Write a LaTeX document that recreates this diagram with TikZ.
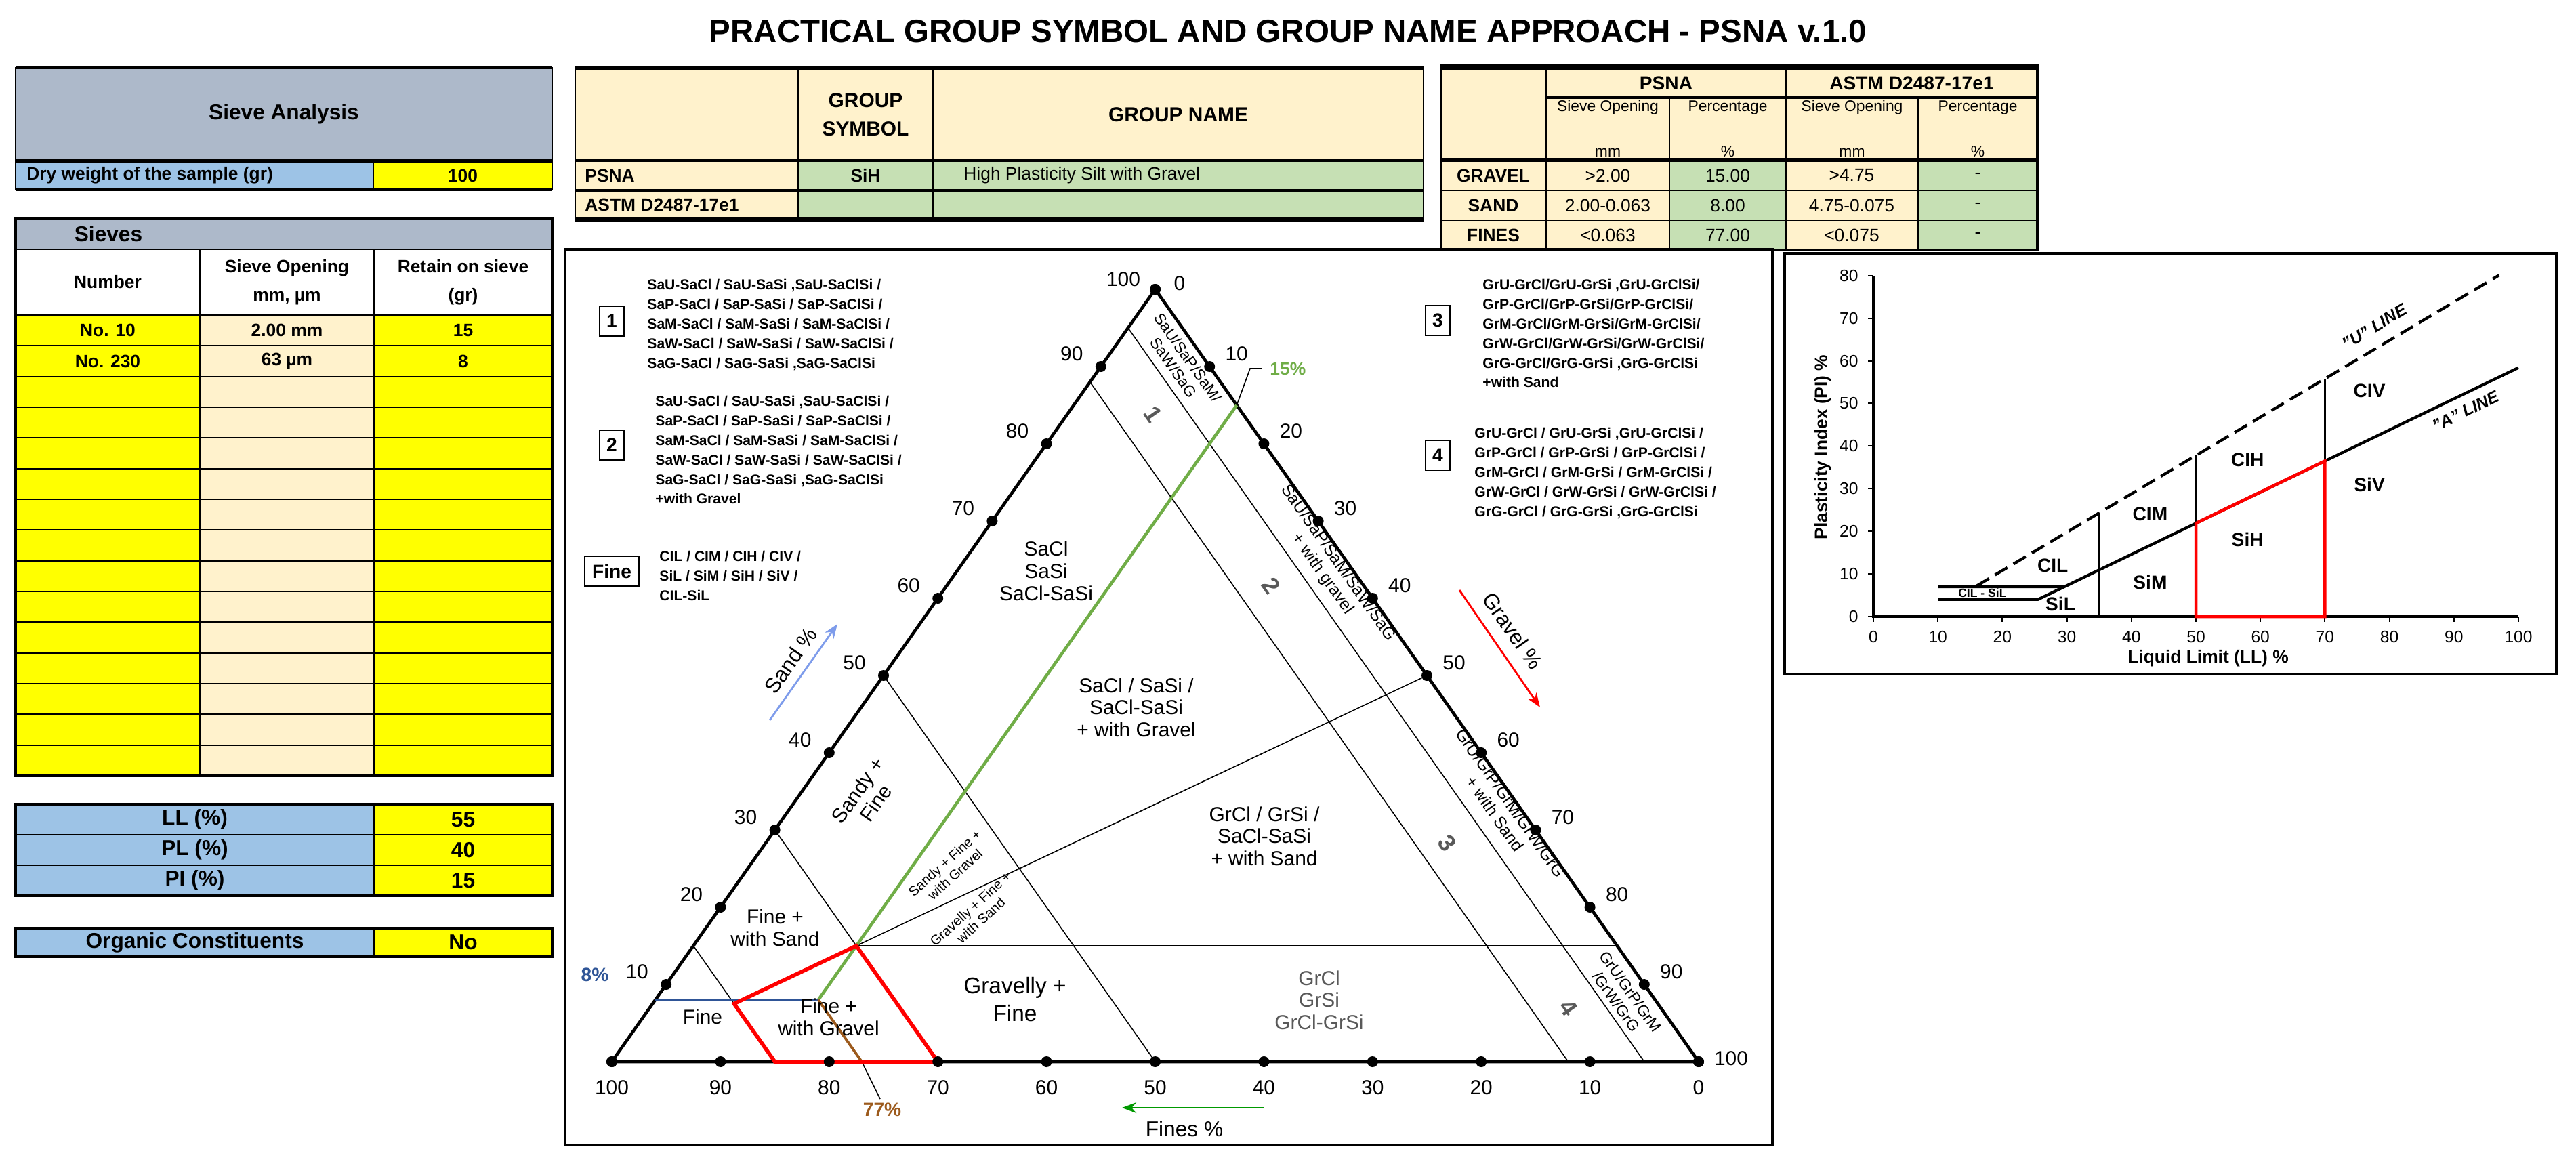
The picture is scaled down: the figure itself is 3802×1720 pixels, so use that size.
\documentclass[tikz,border=0pt]{standalone}
\usepackage{fontspec}
\setmainfont{Liberation Sans}
\usetikzlibrary{arrows.meta,calc}
\definecolor{hdr}{HTML}{ADB9CA}
\definecolor{lblue}{HTML}{9DC3E6}
\definecolor{ylw}{HTML}{FFFF00}
\definecolor{crm}{HTML}{FFF2CC}
\definecolor{grn}{HTML}{C6E0B4}
\definecolor{tgreen}{HTML}{70AD47}
\definecolor{tblue}{HTML}{2F5597}
\definecolor{tbrown}{HTML}{9C5A1C}
\definecolor{tgray}{HTML}{595959}
\newcounter{cc}
\newcommand\fs[2]{\fontsize{#1}{#2}\selectfont}
\newcommand\cellbox[6][]{\stepcounter{cc}\draw[fill=#6,line width=0.6pt] (#2,#3) rectangle (#4,#5);}
\newcommand\ctext[6][]{\stepcounter{cc}\node[font=\bfseries\fs{7.5}{9},align=center,#1] (t\thecc) at ({(#2+#4)/2},{(#3+#5)/2}) {#6};}
\newcommand\ternpt[4]{\coordinate (#1) at ({9.03*(#2)+17.05*(#3)+25.07*(#4)},{15.67*(#2)+4.27*(#3)+15.67*(#4)});}
\newcommand\cp[3]{\coordinate (#1) at ({2765+9.52*(#2)},{910-6.29*(#3)});}
\tikzset{
  thinl/.style={line width=0.45pt},
  side/.style={line width=1.3pt},
  lbl/.style={font=\fs{8.5}{9.3},align=center},
  tick/.style={font=\fs{8.5}{10}},
  blk/.style={font=\bfseries\fs{6}{8.2},align=left,anchor=north west},
  numbox/.style={draw,line width=0.8pt,font=\bfseries\fs{8}{9},minimum width=0.36cm,minimum height=0.44cm,inner sep=1pt},
  clab/.style={font=\bfseries\fs{8}{9}},
  ctick/.style={font=\fs{7}{8}},
}
\begin{document}
\begin{tikzpicture}[x=0.01cm,y=-0.01cm]
\useasboundingbox[fill=white] (0,0) rectangle (3802,1720);
\node[font=\bfseries\fs{13.5}{15}] (title) at (1901,46) {PRACTICAL GROUP SYMBOL AND GROUP NAME APPROACH - PSNA v.1.0};

% ===== left panel =====
\cellbox{23}{100}{815}{236}{hdr}\ctext{23}{100}{815}{236}{\fs{9}{10}Sieve Analysis}
\draw[line width=1.4pt] (23,100) -- (815,100);
\cellbox{23}{238}{551}{280}{lblue}\node[font=\bfseries\fs{7.5}{9},anchor=west] (dry) at (27,259) {Dry weight of the sample (gr)};
\cellbox{551}{238}{815}{280}{ylw}\ctext{551}{238}{815}{280}{100}
\draw[line width=1.4pt] (23,238) -- (815,238) (23,280) -- (815,280);
\cellbox{23}{323}{815}{368}{hdr}\node[font=\bfseries\fs{9}{10}] (sv) at (160,345) {Sieves};
\draw[line width=1.4pt] (23,323) -- (815,323);
\cellbox{23}{368}{295}{465}{white}\ctext{23}{368}{295}{465}{Number}
\cellbox{295}{368}{552}{465}{white}\ctext{295}{368}{552}{465}{Sieve Opening\\[3pt]mm, µm}
\cellbox{552}{368}{815}{465}{white}\ctext{552}{368}{815}{465}{Retain on sieve\\[3pt](gr)}
\foreach \r in {0,...,14}{
  \pgfmathsetmacro\ya{465+45.33*\r}\pgfmathsetmacro\yb{465+45.33*(\r+1)}
  \draw[fill=ylw,line width=0.6pt] (23,\ya) rectangle (295,\yb);
  \draw[fill=crm,line width=0.6pt] (295,\ya) rectangle (552,\yb);
  \draw[fill=ylw,line width=0.6pt] (552,\ya) rectangle (815,\yb);
}
\ctext{23}{465}{295}{510}{No. 10}\ctext{295}{465}{552}{510}{2.00 mm}\ctext{552}{465}{815}{510}{15}
\ctext{23}{510}{295}{556}{No. 230}\ctext{295}{510}{552}{556}{63 µm}\ctext{552}{510}{815}{556}{8}
\draw[line width=1.2pt] (23,323) rectangle (815,1145);
\cellbox{23}{1187}{552}{1232}{lblue}\ctext[font=\bfseries\fs{9}{10}]{23}{1187}{552}{1232}{LL (\%)}
\cellbox{552}{1187}{815}{1232}{ylw}\ctext[font=\bfseries\fs{9}{10}]{552}{1187}{815}{1232}{55}
\cellbox{23}{1232}{552}{1277}{lblue}\ctext[font=\bfseries\fs{9}{10}]{23}{1232}{552}{1277}{PL (\%)}
\cellbox{552}{1232}{815}{1277}{ylw}\ctext[font=\bfseries\fs{9}{10}]{552}{1232}{815}{1277}{40}
\cellbox{23}{1277}{552}{1322}{lblue}\ctext[font=\bfseries\fs{9}{10}]{23}{1277}{552}{1322}{PI (\%)}
\cellbox{552}{1277}{815}{1322}{ylw}\ctext[font=\bfseries\fs{9}{10}]{552}{1277}{815}{1322}{15}
\draw[line width=1.2pt] (23,1187) rectangle (815,1322);
\cellbox{23}{1370}{552}{1412}{lblue}\ctext[font=\bfseries\fs{9}{10}]{23}{1370}{552}{1412}{Organic Constituents}
\cellbox{552}{1370}{815}{1412}{ylw}\ctext[font=\bfseries\fs{9}{10}]{552}{1370}{815}{1412}{No}
\draw[line width=1.2pt] (23,1370) rectangle (815,1412);

% ===== group table =====
\cellbox{849}{103}{1178}{236}{crm}
\cellbox{1178}{103}{1377}{236}{crm}\ctext[font=\bfseries\fs{8.5}{12}]{1178}{103}{1377}{236}{GROUP\\SYMBOL}
\cellbox{1377}{103}{2101}{236}{crm}\ctext[font=\bfseries\fs{8.5}{12}]{1377}{103}{2101}{236}{GROUP NAME}
\cellbox{849}{238}{1178}{280}{crm}\node[font=\bfseries\fs{7.5}{9},anchor=west] (gp) at (851,259) {PSNA};
\cellbox{1178}{238}{1377}{280}{grn}\ctext{1178}{238}{1377}{280}{SiH}
\cellbox{1377}{238}{2101}{280}{grn}\node[font=\fs{7.5}{9},anchor=west] (gn) at (1410,259) {High Plasticity Silt with Gravel};
\cellbox{849}{282}{1178}{322}{crm}\node[font=\bfseries\fs{7.5}{9},anchor=west] (ga) at (851,302) {ASTM D2487-17e1};
\cellbox{1178}{282}{1377}{322}{grn}\cellbox{1377}{282}{2101}{322}{grn}
\fill (849,97) rectangle (2101,104);\fill (849,322) rectangle (2101,328);
\draw[line width=1.4pt] (849,237) -- (2101,237) (849,281) -- (2101,281);

% ===== right table =====
\cellbox{2127}{103}{2282}{235}{crm}
\cellbox{2282}{103}{2636}{143}{crm}\ctext[font=\bfseries\fs{8}{9}]{2282}{103}{2636}{143}{PSNA}
\cellbox{2636}{103}{3007}{143}{crm}\ctext[font=\bfseries\fs{8}{9}]{2636}{103}{3007}{143}{ASTM D2487-17e1}
\cellbox{2282}{145}{2464}{235}{crm}\ctext[font=\fs{6.5}{19}]{2282}{145}{2464}{235}{Sieve Opening\\mm}
\cellbox{2464}{145}{2636}{235}{crm}\ctext[font=\fs{6.5}{19}]{2464}{145}{2636}{235}{Percentage\\\%}
\cellbox{2636}{145}{2831}{235}{crm}\ctext[font=\fs{6.5}{19}]{2636}{145}{2831}{235}{Sieve Opening\\mm}
\cellbox{2831}{145}{3007}{235}{crm}\ctext[font=\fs{6.5}{19}]{2831}{145}{3007}{235}{Percentage\\\%}
\draw[line width=1.4pt] (2282,144) -- (3007,144);
\foreach \nm/\a/\b/\c/\d [count=\k from 0] in {GRAVEL/{>2.00}/15.00/{>4.75}/-,SAND/2.00-0.063/8.00/4.75-0.075/-,FINES/{<0.063}/77.00/{<0.075}/-}{
  \pgfmathsetmacro\ya{237+44*\k}\pgfmathsetmacro\yb{237+44*(\k+1)}\pgfmathsetmacro\ym{237+44*\k+22}
  \draw[fill=crm,line width=0.6pt] (2127,\ya) rectangle (2282,\yb);
  \draw[fill=crm,line width=0.6pt] (2282,\ya) rectangle (2464,\yb);
  \draw[fill=grn,line width=0.6pt] (2464,\ya) rectangle (2636,\yb);
  \draw[fill=crm,line width=0.6pt] (2636,\ya) rectangle (2831,\yb);
  \draw[fill=grn,line width=0.6pt] (2831,\ya) rectangle (3007,\yb);
  \node[font=\bfseries\fs{7.5}{9}] (rn\k) at (2204,\ym) {\nm};
  \node[font=\fs{7.5}{9}] (ra\k) at (2373,\ym) {\a};
  \node[font=\fs{7.5}{9}] (rb\k) at (2550,\ym) {\b};
  \node[font=\fs{7.5}{9}] (rc\k) at (2733,\ym) {\c};
  \node[font=\fs{7.5}{9}] (rd\k) at (2919,\ym) {\d};
}
\fill (2127,97) rectangle (3007,104);
\draw[line width=1.6pt] (2127,236) -- (3007,236);
\draw[line width=1.4pt] (2127,97) rectangle (3007,369);

% ===== triangle panel =====
\draw[line width=1.2pt] (834,368) rectangle (2616,1690);
\ternpt{L}{100}{0}{0}\ternpt{T}{0}{100}{0}\ternpt{R}{0}{0}{100}
\ternpt{f5a}{5}{95}{0}\ternpt{f5b}{5}{0}{95}
\ternpt{f12a}{12}{88}{0}\ternpt{f12b}{12}{0}{88}
\ternpt{f50a}{50}{50}{0}\ternpt{f50b}{50}{0}{50}
\ternpt{f70a}{70}{30}{0}\ternpt{f70b}{70}{0}{30}
\ternpt{f85a}{85}{15}{0}\ternpt{f85b}{85}{0}{15}
\ternpt{B}{70}{15}{15}\ternpt{A}{85}{7.5}{7.5}
\ternpt{s15r}{0}{15}{85}\ternpt{sgr}{0}{50}{50}
\ternpt{g15t}{0}{85}{15}\ternpt{P}{77}{8}{15}\ternpt{Q}{77}{0}{23}
\ternpt{s8l}{92}{8}{0}
\draw[thinl] (f5a) -- (f5b) (f12a) -- (f12b) (f50a) -- (f50b) (f70a) -- (f70b) (f85a) -- (f85b) (B) -- (s15r) (B) -- (sgr);
\draw[side] (L) -- (T) -- (R) -- cycle;
\draw[tblue,line width=1.3pt] (s8l) -- (P);
\draw[tgreen,line width=1.3pt] (P) -- (g15t);
\draw[tbrown,line width=1.1pt] (P) -- (Q);
\coordinate (q77) at (1299,1622);
\draw[thinl] (Q) -- (q77);
\draw[red,line width=1.6pt] (A) -- (B) -- (f70b) -- (f85b) -- cycle;
\foreach \i in {0,...,10}{
  \pgfmathtruncatemacro\f{100-10*\i}\pgfmathtruncatemacro\g{10*\i}
  \ternpt{b\i}{\f}{0}{\g}\ternpt{l\i}{\f}{\g}{0}\ternpt{r\i}{0}{\f}{\g}
  \fill (b\i) circle (8);\fill (l\i) circle (8);\fill (r\i) circle (8);
  \node[tick] (bl\i) at ($(b\i)+(0,38)$) {\f};
}
\foreach \i in {1,...,9}{
  \pgfmathtruncatemacro\g{10*\i}
  \node[tick] (ll\i) at ($(l\i)+(-43,-19)$) {\g};
  \node[tick] (rl\i) at ($(r\i)+(40,-19)$) {\g};
}
\node[tick] (ltop) at ($(T)+(-47,-15)$) {100};
\node[tick] (rtop) at ($(T)+(36,-9)$) {0};
\node[tick] (rend) at ($(R)+(48,-5)$) {100};
% marker labels
\node[font=\bfseries\fs{8}{9},text=tblue] (p8) at (878,1439) {8\%};
\node[font=\bfseries\fs{8}{9},text=tbrown] (p77) at (1302,1638) {77\%};
\node[font=\bfseries\fs{7.5}{9},text=tgreen,anchor=west] (p15) at (1862,544) {15\%};
\coordinate (k15) at (1845,544);
\draw[thinl] (g15t) -- (k15) -- (p15.west);
% region labels
\node[lbl] (rsa) at (1544,843) {SaCl\\SaSi\\SaCl-SaSi};
\node[lbl] (rsb) at (1677,1044) {SaCl / SaSi /\\SaCl-SaSi\\+ with Gravel};
\node[lbl] (rgs) at (1866,1234) {GrCl / GrSi /\\SaCl-SaSi\\+ with Sand};
\node[lbl,text=tgray] (rgr) at (1947,1476) {GrCl\\GrSi\\GrCl-GrSi};
\node[lbl,font=\fs{9.5}{11.5}] (rgf) at (1498,1475) {Gravelly +\\Fine};
\node[lbl] (rfs) at (1144,1369) {Fine +\\with Sand};
\node[lbl] (rf) at (1037,1501) {Fine};
\node[lbl] (rfg) at (1223,1501) {Fine +\\with Gravel};
\node[lbl,rotate=54.9] (rsf) at (1279,1176) {Sandy +\\Fine};
\node[lbl,font=\fs{5.7}{6.5},rotate=42] (rsfg) at (1402,1282) {Sandy + Fine +\\with Gravel};
\node[lbl,font=\fs{5.7}{6.5},rotate=42] (rgfs) at (1440,1350) {Gravelly + Fine +\\with Sand};
\node[lbl,font=\bfseries\fs{10}{11},rotate=-54.9,text=tgray] (n1) at (1702,612) {1};
\node[lbl,font=\bfseries\fs{10}{11},rotate=-54.9,text=tgray] (n2) at (1876,864) {2};
\node[lbl,font=\bfseries\fs{10}{11},rotate=-54.9,text=tgray] (n3) at (2136,1245) {3};
\node[lbl,font=\bfseries\fs{10}{11},rotate=-54.9,text=tgray] (n4) at (2315,1488) {4};
\node[lbl,font=\fs{6.5}{7.3},rotate=-54.9] (sl1) at (1743,535) {SaU/SaP/SaM/\\SaW/SaG};
\node[lbl,font=\fs{7}{8},rotate=-54.9] (sl2) at (1963,839) {SaU/SaP/SaM/SaW/SaG\\+ with gravel};
\node[lbl,font=\fs{7}{8},rotate=-54.9] (sl3) at (2218,1193) {GrU/GrP/GrM/GrW/GrG\\+ with Sand};
\node[lbl,font=\fs{6.5}{7.3},rotate=-54.9] (sl4) at (2396,1471) {GrU/GrP/GrM\\/GrW/GrG};
% axis arrows
\coordinate (sa1) at (1136,1063);\coordinate (sa2) at (1236,921);
\draw[-{Stealth[length=6pt]},color=lblue!80!blue,line width=0.8pt] (sa1) -- (sa2);
\node[lbl,font=\fs{9}{10},rotate=54.9] (sand) at (1167,975) {Sand \%};
\coordinate (ga1) at (2154,871);\coordinate (ga2) at (2273,1044);
\draw[-{Stealth[length=6pt]},red,line width=0.8pt] (ga1) -- (ga2);
\node[lbl,font=\fs{9}{10},rotate=-54.9] (grav) at (2233,931) {Gravel \%};
\coordinate (fa1) at (1866,1635);\coordinate (fa2) at (1656,1635);
\draw[-{Stealth[length=6pt]},color=green!60!black,line width=0.8pt] (fa1) -- (fa2);
\node[lbl,font=\fs{9}{10}] (fines) at (1748,1666) {Fines \%};
% text blocks
\node[numbox] (bx1) at (903,474) {1};
\node[blk] (tx1) at (943,400) {SaU-SaCl / SaU-SaSi ,SaU-SaClSi /\\SaP-SaCl / SaP-SaSi / SaP-SaClSi /\\SaM-SaCl / SaM-SaSi / SaM-SaClSi /\\SaW-SaCl / SaW-SaSi / SaW-SaClSi /\\SaG-SaCl / SaG-SaSi ,SaG-SaClSi};
\node[numbox] (bx2) at (903,657) {2};
\node[blk] (tx2) at (955,572) {SaU-SaCl / SaU-SaSi ,SaU-SaClSi /\\SaP-SaCl / SaP-SaSi / SaP-SaClSi /\\SaM-SaCl / SaM-SaSi / SaM-SaClSi /\\SaW-SaCl / SaW-SaSi / SaW-SaClSi /\\SaG-SaCl / SaG-SaSi ,SaG-SaClSi\\+with Gravel};
\node[numbox,minimum width=0.8cm] (bxf) at (903,843) {Fine};
\node[blk] (txf) at (961,801) {CIL / CIM / CIH / CIV /\\SiL / SiM / SiH / SiV /\\CIL-SiL};
\node[numbox] (bx3) at (2122,473) {3};
\node[blk] (tx3) at (2176,400) {GrU-GrCl/GrU-GrSi ,GrU-GrClSi/\\GrP-GrCl/GrP-GrSi/GrP-GrClSi/\\GrM-GrCl/GrM-GrSi/GrM-GrClSi/\\GrW-GrCl/GrW-GrSi/GrW-GrClSi/\\GrG-GrCl/GrG-GrSi ,GrG-GrClSi\\+with Sand};
\node[numbox] (bx4) at (2122,672) {4};
\node[blk] (tx4) at (2164,619) {GrU-GrCl / GrU-GrSi ,GrU-GrClSi /\\GrP-GrCl / GrP-GrSi / GrP-GrClSi /\\GrM-GrCl / GrM-GrSi / GrM-GrClSi /\\GrW-GrCl / GrW-GrSi / GrW-GrClSi /\\GrG-GrCl / GrG-GrSi ,GrG-GrClSi};

% ===== plasticity chart =====
\draw[line width=1.2pt] (2634,374) rectangle (3773,995);
\cp{o}{0}{0}\cp{xe}{100}{0}\cp{ye}{0}{80}
\draw[line width=0.9pt] (ye) -- (o) -- (xe);
\foreach \v in {0,10,...,100}{\cp{xt\v}{\v}{0}\draw[line width=0.6pt] (xt\v) -- ++(0,8);\node[ctick] (xl\v) at ($(xt\v)+(0,30)$) {\v};}
\foreach \v in {0,10,...,80}{\cp{yt\v}{0}{\v}\draw[line width=0.6pt] (yt\v) -- ++(-8,0);\node[ctick,anchor=east] (yl\v) at ($(yt\v)+(-10,0)$) {\v};}
\node[font=\bfseries\fs{7.5}{9},rotate=90] (ylab) at (2690,660) {Plasticity Index (PI) \%};
\node[font=\bfseries\fs{7.5}{9}] (xlab) at (3259,972) {Liquid Limit (LL) \%};
\cp{u1}{16}{7.2}\cp{u2}{97}{80.1}
\cp{a1}{25.5}{4}\cp{a0}{29.6}{7}\cp{a2}{100}{58.4}
\cp{h1}{10}{7}\cp{h2}{10}{4}
\draw[line width=1.2pt,dash pattern=on 6pt off 3pt] (u1) -- (u2);
\draw[line width=1.2pt] (h1) -- (a0) (h2) -- (a1) -- (a2);
\cp{v35a}{35}{0}\cp{v35b}{35}{24.3}\cp{v50a}{50}{21.9}\cp{v50b}{50}{37.8}\cp{v70a}{70}{36.5}\cp{v70b}{70}{55.8}\cp{v50o}{50}{0}\cp{v70o}{70}{0}
\draw[line width=0.6pt] (v35a) -- (v35b) (v50a) -- (v50b);
\draw[line width=0.9pt] (v70a) -- (v70b);
\draw[red,line width=1.3pt] (v50o) -- (v50a) -- (v70a) -- (v70o) -- cycle;
\foreach \t/\xx/\yy in {CIL/27.8/12,CIM/42.9/24,CIH/58/36.8,CIV/76.9/52.9,SiV/76.9/31,SiH/58/18,SiM/42.9/8,SiL/29/3}{
  \cp{lp\t}{\xx}{\yy}\node[clab] (cl\t) at (lp\t) {\t};}
\cp{lpcs}{16.9}{5.6}\node[font=\bfseries\fs{5}{6}] (clcs) at (lpcs) {CIL - SiL};
\cp{lpu}{77.7}{68}\node[font=\bfseries\itshape\fs{7}{8},rotate=31] (ulab) at (lpu) {"U" LINE};
\cp{lpa}{91.8}{48.2}\node[font=\bfseries\itshape\fs{7}{8},rotate=26] (alab) at (lpa) {"A" LINE};
\end{tikzpicture}
\end{document}
